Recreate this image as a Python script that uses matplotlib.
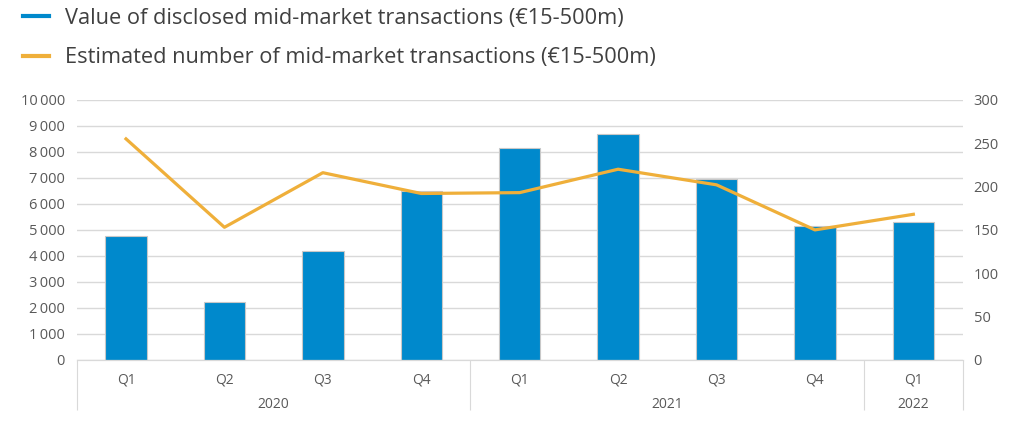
import matplotlib
matplotlib.use("Agg")
import matplotlib.pyplot as plt
from matplotlib.lines import Line2D
from matplotlib.ticker import FuncFormatter

quarters = ["Q1", "Q2", "Q3", "Q4", "Q1", "Q2", "Q3", "Q4", "Q1"]
years = ["2020", "2021", "2022"]
year_spans = [4, 4, 1]
deal_value = [4780, 2230, 4170, 6500, 8150, 8670, 6960, 5150, 5320]
deal_count = [255, 153, 216, 192, 193, 220, 202, 150, 168]

BLUE = "#0089CC"
ORANGE = "#EFAF3A"
GRID = "#D9D9D9"
TXT = "#595959"

plt.rcParams["font.family"] = ["Open Sans", "DejaVu Sans"]

fig = plt.figure(figsize=(10.24, 4.4), dpi=100)
ax = fig.add_axes([0.075, 0.182, 0.865, 0.591])
ax2 = ax.twinx()

x = list(range(len(quarters)))
ax.bar(x, deal_value, width=0.42, color=BLUE, edgecolor="#C8C8C8",
       linewidth=0.8, zorder=2)
ax2.plot(x, deal_count, color=ORANGE, lw=2.3, solid_joinstyle="round")

ax.set_xlim(-0.5, len(quarters) - 0.5)
ax.set_ylim(0, 10000)
ax.set_yticks(range(0, 10001, 1000))
ax.yaxis.set_major_formatter(
    FuncFormatter(lambda v, _: f"{int(v):,}".replace(",", "\u2009")))
ax2.set_ylim(0, 300)
ax2.set_yticks(range(0, 301, 50))

ax.grid(axis="y", color=GRID, lw=1, zorder=0)
ax.set_axisbelow(True)
for a in (ax, ax2):
    for s in ("top", "left", "right"):
        a.spines[s].set_visible(False)
    a.spines["bottom"].set_color(GRID)
ax.tick_params(axis="y", length=0, pad=8.5, labelsize=10.5, labelcolor=TXT)
ax2.tick_params(axis="y", length=0, pad=8, labelsize=10.5, labelcolor=TXT)

# quarter labels
ax.set_xticks(x)
ax.set_xticklabels(quarters)
ax.tick_params(axis="x", length=0, pad=9, labelsize=10, labelcolor=TXT)

# group dividers
bounds = [-0.5]
for n in year_spans:
    bounds.append(bounds[-1] + n)
div = ax.secondary_xaxis("bottom")
div.set_xticks(bounds)
div.set_xticklabels([""] * len(bounds))
div.tick_params(axis="x", length=36, width=0.8, color=GRID)
div.spines["bottom"].set_visible(False)

# year labels
centers = [(bounds[i] + bounds[i + 1]) / 2 for i in range(len(years))]
yr = ax.secondary_xaxis("bottom")
yr.set_xticks(centers)
yr.set_xticklabels(years)
yr.tick_params(axis="x", length=0, pad=27, labelsize=10, labelcolor=TXT)
yr.spines["bottom"].set_visible(False)

handles = [Line2D([], [], color=BLUE, lw=3),
           Line2D([], [], color=ORANGE, lw=3)]
labels = ["Value of disclosed mid-market transactions (€15-500m)",
          "Estimated number of mid-market transactions (€15-500m)"]
fig.legend(handles, labels, loc="upper left", bbox_to_anchor=(0.0035, 1.027),
           frameon=False, fontsize=15.7, handlelength=1.2, handletextpad=0.7,
           labelspacing=0.86, labelcolor="#404040")

fig.savefig("out.png", dpi=100)
